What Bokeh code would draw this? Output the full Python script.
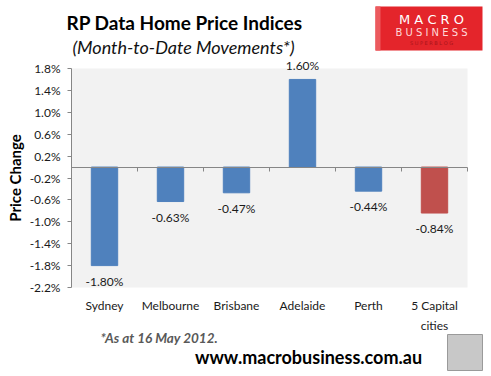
from bokeh.plotting import figure
from bokeh.models import (ColumnDataSource, Range1d, LinearAxis, FixedTicker,
                          PrintfTickFormatter, Label, BoxAnnotation)
from bokeh.core.properties import value
from bokeh.embed import file_html
from bokeh.resources import INLINE

# ---- data ----
categories = ["Sydney", "Melbourne", "Brisbane", "Adelaide", "Perth", "5 Capital cities"]
category_labels = ["Sydney", "Melbourne", "Brisbane", "Adelaide", "Perth", "5 Capital\ncities"]
changes = [-1.80, -0.63, -0.47, 1.60, -0.44, -0.84]
bar_colors = ["#4F81BD", "#4F81BD", "#4F81BD", "#4F81BD", "#4F81BD", "#C0504D"]
y_ticks = [-2.2, -1.8, -1.4, -1.0, -0.6, -0.2, 0.2, 0.6, 1.0, 1.4, 1.8]
title_text = "RP Data Home Price Indices"
subtitle_text = "(Month-to-Date Movements*)"
footnote_text = "*As at 16 May 2012."
url_text = "www.macrobusiness.com.au"

FONT = "Lato"
W, H = 491, 376
# plot-area placement on the canvas (pixels)
PL, PR, PT, PB = 71, 467, 68, 287

n = len(categories)
centers = [i + 0.5 for i in range(n)]
y_lo, y_hi = y_ticks[0], y_ticks[-1]
px_x = (PR - PL) / n
px_y = (PB - PT) / (y_hi - y_lo)

src = ColumnDataSource(dict(
    x=centers,
    val=changes,
    color=bar_colors,
    label=[f"{v:.2f}%" for v in changes],
    baseline=["bottom" if v >= 0 else "top" for v in changes],
    yoff=[-6 if v >= 0 else 8 for v in changes],
))

p = figure(width=W, height=H,
           x_range=Range1d(-PL / px_x, (W - PL) / px_x),
           y_range=Range1d(y_lo - (H - PB) / px_y, y_hi + PT / px_y),
           output_backend="svg", toolbar_location=None, x_axis_location=None, y_axis_location=None,
           min_border_left=0, min_border_right=0, min_border_top=0, min_border_bottom=0)
p.outline_line_color = None
p.background_fill_color = "white"
p.border_fill_color = "white"
p.xgrid.visible = False
p.ygrid.visible = False

# plot area background
p.quad(left=[0], right=[n], bottom=[y_lo], top=[y_hi], fill_color="#F2F2F2", line_color=None)

p.vbar(x="x", top="val", bottom=0, width=0.4, color="color", source=src)

p.text(x="x", y="val", text="label", text_baseline="baseline", y_offset="yoff",
       text_align="center", text_font=value(FONT), text_font_size="12px",
       text_color="#1a1a1a", source=src)

# y axis
ya = LinearAxis(fixed_location=0, bounds=(y_lo, y_hi), ticker=FixedTicker(ticks=y_ticks),
                formatter=PrintfTickFormatter(format="%.1f%%"))
ya.axis_line_color = "#868686"
ya.major_tick_line_color = "#868686"
ya.major_tick_out = 4
ya.major_tick_in = 0
ya.minor_tick_line_color = None
ya.major_label_standoff = 7
ya.major_label_text_font = FONT
ya.major_label_text_font_size = "12px"
ya.major_label_text_color = "#1a1a1a"
ya.axis_label = "Price Change"
ya.axis_label_text_font = FONT
ya.axis_label_text_font_style = "bold"
ya.axis_label_text_font_size = "15px"
ya.axis_label_text_color = "#000000"
ya.axis_label_standoff = 3
p.add_layout(ya, "left")

# category axis
xa = LinearAxis(fixed_location=y_lo, ticker=FixedTicker(ticks=centers))
xa.axis_line_color = None
xa.major_tick_line_color = None
xa.minor_tick_line_color = None
xa.major_label_standoff = 4
xa.major_label_text_font = FONT
xa.major_label_text_font_size = "12px"
xa.major_label_text_color = "#1a1a1a"
xa.major_label_text_line_height = 1.35
xa.major_label_overrides = dict(zip(centers, category_labels))
p.add_layout(xa, "below")

# zero line with category-boundary ticks
za = LinearAxis(fixed_location=0, bounds=(0, n), ticker=FixedTicker(ticks=list(range(n + 1))))
za.axis_line_color = "#868686"
za.major_tick_line_color = "#868686"
za.major_tick_out = 4
za.major_tick_in = 0
za.minor_tick_line_color = None
za.major_label_text_font_size = "0px"
za.major_label_text_alpha = 0
p.add_layout(za, "below")

# texts (screen units; frame = whole canvas, origin bottom-left)
def lab(text, X, Y, size, style="normal", color="black", align="center", baseline="middle", font=FONT):
    p.add_layout(Label(x=X, y=H - Y, x_units="screen", y_units="screen", text=text,
                       text_font=font, text_font_size=size, text_font_style=style,
                       text_color=color, text_align=align, text_baseline=baseline))

def box(X0, X1, Y0, Y1, fill, line=None):
    p.add_layout(BoxAnnotation(left=X0, right=X1, top=H - Y0, bottom=H - Y1,
                               left_units="screen", right_units="screen", top_units="screen",
                               bottom_units="screen", fill_color=fill, fill_alpha=1,
                               line_color=line, line_width=1, line_alpha=1))

lab(title_text, 184, 22, "19px", "bold")
lab(subtitle_text, 183, 46, "18px", "italic", color="#111111")
lab(footnote_text, 100, 337, "13.5px", "bold italic", color="#595959", align="left")
lab(url_text, 308, 356, "18px", "bold")

# logo
box(375, 482, 6, 50, "#E4252B")
box(375, 380, 6, 50, "#EC5A5E")
lab("M A C R O", 431, 19, "13px", color="white", font="DejaVu Sans")
lab("B U S I N E S S", 431, 32, "10px", color="#FFD9D9", font="DejaVu Sans")
lab("S U P E R B L O G", 431, 42, "5px", color="#A8141A", font="DejaVu Sans")

# wolf picture placeholder
box(447, 482, 334, 370, "#C8C8C8", "#9A9A9A")

open("out.html", "w").write(file_html(p, INLINE))
